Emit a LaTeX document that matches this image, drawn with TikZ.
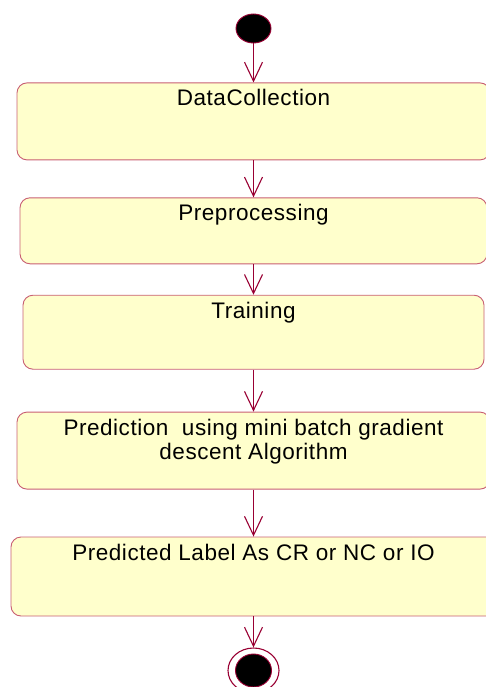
\documentclass[tikz,border=0pt]{standalone}
\usepackage{fontspec}
\setmainfont[LetterSpace=2.4]{Liberation Sans}
\usepackage{tikz}
\usetikzlibrary{
        arrows.meta,
        positioning,
        shapes.geometric
    }
\definecolor{umlred}{RGB}{153,0,51}
\definecolor{umlrose}{RGB}{200,95,115}
\definecolor{umlfill}{RGB}{255,255,204}
\tikzset{>={Straight Barb[length=19pt,width=18pt]},auto,node distance=40pt}
\tikzset{activity/.style={draw=umlrose,fill=umlfill,rounded corners=10pt,
        line width=0.9pt,inner sep=0pt}}
\tikzset{statetext/.style={inner sep=0pt,align=center,
        font=\fontsize{22.5}{24}\selectfont}}
\tikzset{flow/.style={->,draw=umlred,line width=1.1pt}}

\begin{document}
\begin{tikzpicture}
    \useasboundingbox (0pt,0pt) rectangle (486pt,-687pt);
    \clip (0pt,0pt) rectangle (486pt,-687pt);
                \node[ellipse,draw=umlred,fill=black,line width=0.9pt,
                    minimum width=35pt,minimum height=29pt,inner sep=0pt] (init) at (253.5pt,-28.5pt) {};
                \node[activity,below=39pt of init,minimum width=473pt,minimum height=77pt] (collect) {};
                \node[activity,below=37pt of collect,minimum width=467pt,minimum height=66pt] (prep) {};
                \node[activity,below=30.5pt of prep,minimum width=461pt,minimum height=74pt] (train) {};
                \node[activity,below=42pt of train,minimum width=473pt,minimum height=77pt] (predict) {};
                \node[activity,below=47pt of predict,minimum width=485pt,minimum height=79pt] (result) {};
                \node[ellipse,draw=umlred,line width=1.1pt,
                    minimum width=51pt,minimum height=45pt,inner sep=0pt,below=31pt of result] (final) {};
                \node[ellipse,draw=umlred,fill=black,line width=0.9pt,
                    minimum width=36pt,minimum height=33pt,inner sep=0pt] (finaldot) at (final.center) {};
                % state names
                \node[statetext,below=7pt of collect.north] (tcollect) {DataCollection};
                \node[statetext,below=7pt of prep.north] (tprep) {Preprocessing};
                \node[statetext,below=7pt of train.north] (ttrain) {Training};
                \node[statetext,below=7pt of predict.north] (tpredict) {Prediction\ \ using mini batch gradient\\descent Algorithm};
                \node[statetext,below=7pt of result.north] (tresult) {Predicted Label As CR or NC or IO};
            \path[flow]
                    (init)    edge (collect)
                    (collect) edge (prep)
                    (prep)    edge (train)
                    (train)   edge (predict)
                    (predict) edge (result)
                    (result)  edge (final);
            \end{tikzpicture}
\end{document}
